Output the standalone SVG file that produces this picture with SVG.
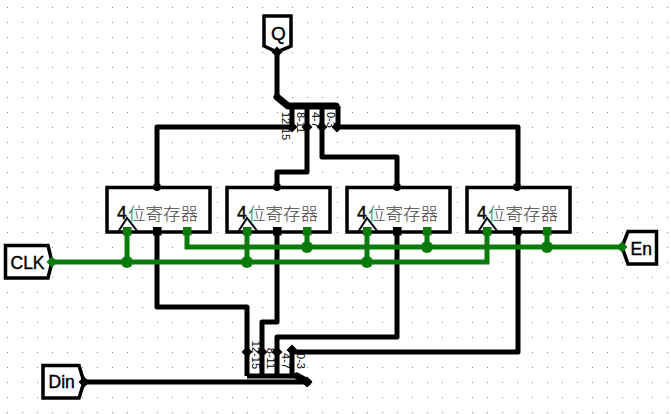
<svg xmlns="http://www.w3.org/2000/svg" width="671" height="414" viewBox="0 0 671 414">
<style>
.w{fill:none;stroke:#000;stroke-width:5;stroke-linejoin:round}
.th{fill:none;stroke:#000;stroke-width:7;stroke-linejoin:round;stroke-linecap:round}
.g{fill:none;stroke:#0a7a0a;stroke-width:5}
.b{fill:#fff;stroke:#000;stroke-width:3.5}
.t{font-family:"Liberation Sans",Arial,sans-serif;font-size:17.500px;fill:#000;stroke:#000;stroke-width:.4}
.c{font-family:"Noto Sans CJK SC",sans-serif;font-size:17.500px;font-weight:300;fill:#444}
.s{font-family:"Liberation Sans",Arial,sans-serif;font-size:11px;fill:#000}
.k{fill:#000}
.gf{fill:#0a7a0a}
</style>
<defs>
<pattern id="dots" width="15" height="15" patternUnits="userSpaceOnUse" x="7" y="7"><rect x="0" y="0" width="1" height="1" fill="#888"/></pattern>
<g id="reg">
<rect class="b" x="107" y="187.500" width="103" height="44.500"/>
<text x="117" y="219" class="t">4</text>
<text x="128" y="220" class="c">位寄存器</text>
<path d="M118 232L127 218L138 232" fill="none" stroke="#000" stroke-width="2"/>
<rect class="gf" x="123" y="227" width="8.500" height="8.500"/>
<rect class="k" x="153" y="227" width="8.500" height="8.500"/>
<rect class="gf" x="183" y="227" width="8.500" height="8.500"/>
<circle class="k" cx="157" cy="187" r="4"/>
</g>
<path id="dia" d="M0-5.500L5.500 0L0 5.500L-5.500 0Z"/>
</defs>
<rect width="671" height="414" fill="#fff"/>
<rect width="671" height="414" fill="url(#dots)"/>
<g id="labels">
<g class="s">
<text transform="translate(282 112) rotate(90)">12-15</text>
<text transform="translate(297 112) rotate(90)">8-11</text>
<text transform="translate(312 112) rotate(90)">4-7</text>
<text transform="translate(327 112) rotate(90)">0-3</text>
<text text-anchor="end" transform="translate(252 369) rotate(90)">12-15</text>
<text text-anchor="end" transform="translate(267 369) rotate(90)">8-11</text>
<text text-anchor="end" transform="translate(282 369) rotate(90)">4-7</text>
<text text-anchor="end" transform="translate(297 369) rotate(90)">0-3</text>
</g>
</g>
<g id="connectors">
<path class="w" d="M277 50V97M338 106V127M292 106V127M307 106V127M322 106V127M157 187V127H292M337 127H518V187M307 127V172H277V187M322 127V157H397V187"/>
<path class="th" d="M277 97L288 106H336"/>
<path class="w" d="M157 232V307H247V376M277 232V322H262V376M397 232V337H277V376M518 232V352H292V376M247 376H297M82 382H306"/>
<path class="th" d="M297 376L308 382"/>
<path class="g" d="M52 262H487V232M127 232V262M247 232V262M367 232V262"/>
<path class="g" d="M622 247H187V232M307 232V247M427 232V247M547 232V247"/>
<g class="gf"><circle cx="127" cy="262" r="6"/><circle cx="247" cy="262" r="6"/><circle cx="367" cy="262" r="6"/><circle cx="307" cy="247" r="6"/><circle cx="427" cy="247" r="6"/><circle cx="547" cy="247" r="6"/></g>
</g>
<g id="reg1"><use href="#reg"/></g>
<g id="reg2"><use href="#reg" x="120"/></g>
<g id="reg3"><use href="#reg" x="240"/></g>
<g id="reg4"><use href="#reg" x="360"/></g>
<g id="Q"><path class="b" d="M264 16H291V46L277 52L264 46Z"/><text x="271" y="40" class="t" style="font-size:19px">Q</text></g>
<g id="CLK"><path class="b" d="M5.500 245.500H48L52 262L48 278H5.500Z"/><text x="10.500" y="269" class="t">CLK</text></g>
<g id="En"><path class="b" d="M628 231.500H656.500V264H628L622 247Z"/><text x="630.500" y="255" class="t">En</text></g>
<g id="Din"><path class="b" d="M43 365.500H79L84 382L79 398H43Z"/><text x="48.500" y="388" class="t">Din</text></g>
<g id="joints">
<g class="k"><use href="#dia" x="277" y="52"/><use href="#dia" x="292" y="127"/><use href="#dia" x="307" y="127"/><use href="#dia" x="322" y="127"/><use href="#dia" x="337" y="127"/>
<use href="#dia" x="247" y="352"/><use href="#dia" x="262" y="352"/><use href="#dia" x="277" y="352"/><use href="#dia" x="292" y="350"/><use href="#dia" x="84" y="382"/><use href="#dia" x="307" y="382"/></g>
<g class="gf"><use href="#dia" x="52" y="262"/><use href="#dia" x="622" y="247"/></g>
</g>
</svg>
